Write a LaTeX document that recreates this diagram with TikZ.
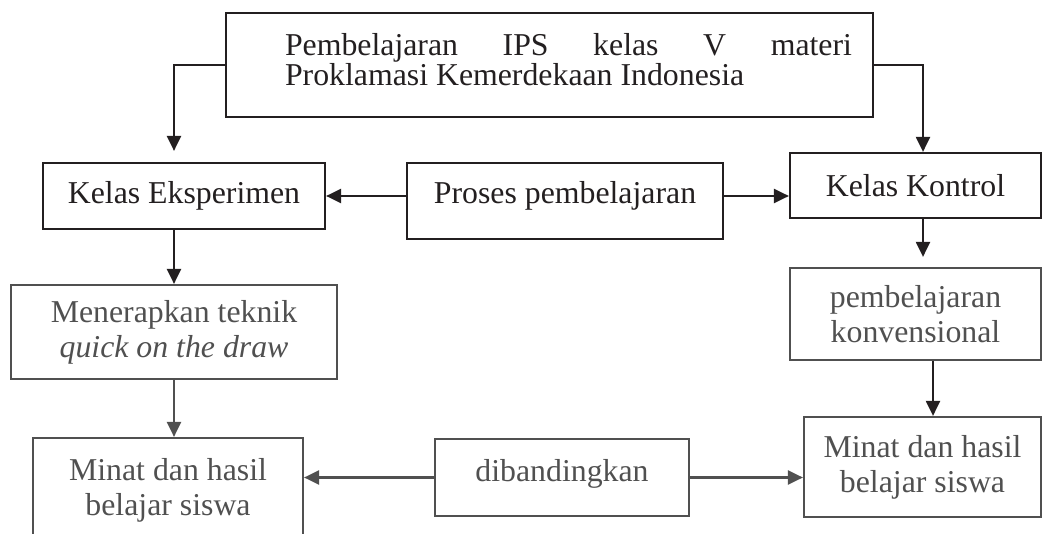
\documentclass[tikz,border=0pt]{standalone}
\usepackage{fontspec}
\setmainfont{Liberation Serif}
\usetikzlibrary{arrows.meta}

\definecolor{ink}{HTML}{231F20}
\definecolor{inkgray}{HTML}{505050}

\begin{document}
\begin{tikzpicture}[x=1pt,y=-1pt,
    font=\fontsize{31.8}{35}\selectfont,
    arr/.style={-{Triangle[length=15pt,width=14pt]},line width=2.2pt}]

      \useasboundingbox (0,0) rectangle (1043,534);
      \clip (0,0) rectangle (1043,534);

      \begin{scope}[every node/.style={draw,line width=2.2pt,rectangle,align=center,inner sep=0pt},color=ink]
        \node (top)     at (549.5,65)   [minimum width=647pt,minimum height=104pt,font=\fontsize{31.8}{28}\selectfont]
          {\raisebox{5pt}[\height][\depth]{\parbox{605pt}{\leftskip=38pt\parindent=0pt Pembelajaran IPS kelas V materi\linebreak Proklamasi Kemerdekaan Indonesia}}};
        \node (eks)     at (184,196)    [minimum width=282pt,minimum height=66pt] {Kelas Eksperimen};
        \node (proses)  at (565,201)    [minimum width=316pt,minimum height=76pt,text depth=18pt] {Proses pembelajaran};
        \node (kontrol) at (915.5,185.5)[minimum width=251pt,minimum height=65pt] {Kelas Kontrol};
      \end{scope}

      \begin{scope}[every node/.style={draw,line width=2.2pt,rectangle,align=center,inner sep=0pt},color=inkgray]
        \node (terap)   at (174,332)    [minimum width=326pt,minimum height=94pt] {Menerapkan teknik\\\textit{quick on the draw}};
        \node (minatA)  at (168,490)    [minimum width=270pt,minimum height=104pt] {Minat dan hasil\\belajar siswa};
        \node (banding) at (562,477.5)  [minimum width=254pt,minimum height=77pt,text depth=15pt] {dibandingkan};
        \node (konv)    at (915.5,314)  [minimum width=251pt,minimum height=92pt] {pembelajaran\\konvensional};
        \node (minatB)  at (922.5,467)  [minimum width=237pt,minimum height=100pt] {Minat dan hasil\\belajar siswa};
      \end{scope}

      % arrows
      \begin{scope}[arr,color=ink]
        \draw[shorten >=11pt] (top.west) -| (eks.north -| terap.north);
        \draw (top.east) -| ([xshift=7.5pt]kontrol.north);
        \draw (proses.west |- eks.east) -- (eks.east);
        \draw (proses.east |- eks.east) -- (kontrol.west |- eks.east);
        \draw (eks.south -| terap.north) -- (terap.north);
        \draw[shorten >=10pt] ([xshift=7.5pt]kontrol.south) -- ([xshift=7.5pt]konv.north);
        \draw ([xshift=17.5pt]konv.south) -- ([xshift=17.5pt]konv.south |- minatB.north);
      \end{scope}

      \begin{scope}[arr,color=inkgray]
        \draw (terap.south) -- (terap.south |- minatA.north);
        \draw (banding.west) -- (minatA.east |- banding.west);
        \draw (banding.east) -- (minatB.west |- banding.east);
      \end{scope}

    \end{tikzpicture}
\end{document}
